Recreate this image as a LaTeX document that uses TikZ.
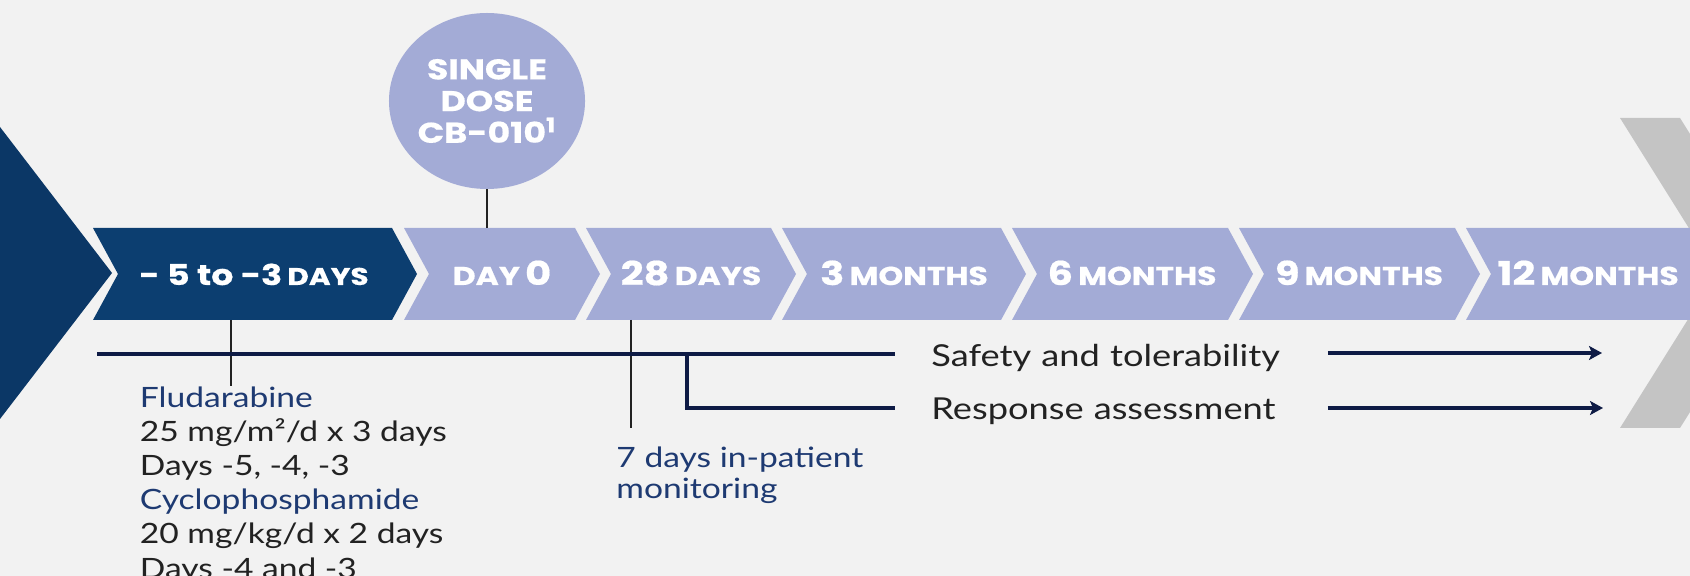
\documentclass[tikz,border=0pt]{standalone}
\usepackage{fontspec}
\setmainfont{Lato}[FakeStretch=1.2]
\newfontfamily\labelfont{Poppins}[FakeStretch=1.22, BoldFeatures={FakeBold=0.6}]
\usepackage{tikz}
\usetikzlibrary{arrows.meta, shapes.geometric}
\usepackage{xcolor}

\definecolor{paper}{HTML}{F2F2F2}
\definecolor{lavender}{HTML}{A3ABD6}
\definecolor{navy}{HTML}{0C3E70}
\definecolor{deepnavy}{HTML}{0B3766}
\definecolor{greyband}{HTML}{C4C4C4}
\definecolor{inknavy}{HTML}{1E3A72}
\definecolor{ink}{HTML}{222222}
\definecolor{rule}{HTML}{0E1B45}

% big figures and small capitals inside the steps
\newcommand{\stepnum}[1]{{\fontsize{16.4}{18}\selectfont #1}}
\newcommand{\stepword}[1]{{\fontsize{12.9}{14}\selectfont #1}}

\begin{document}
\begin{tikzpicture}[x=0.5pt, y=-0.5pt,
    steplabel/.style={text=white, font=\labelfont\bfseries, inner sep=0pt, anchor=base},
    bar/.style={fill=lavender},
    tick/.style={draw=ink, line width=1pt},
    track/.style={draw=rule, line width=1.8pt},
    note/.style={align=left, inner sep=0pt, anchor=north west, font=\fontsize{14}{17.1}\selectfont, text=ink},
    goal/.style={inner ysep=0pt, inner xsep=18pt, text width=180pt, align=left, anchor=base west,
                 font=\fontsize{15.1}{18}\selectfont, text=ink}]

    % Page (y runs downwards, one unit per pixel)
    \path[use as bounding box, fill=paper] (0,0) rectangle (1690,576);
    \clip (0,0) rectangle (1690,576);

    % Big chevrons at both ends
    \fill[deepnavy] (0,127) -- (112,273) -- (0,419) -- cycle;
    \fill[greyband] (1620,118) -- (1717,273) -- (1620,428) -- (1680,428) -- (1777,273) -- (1680,118) -- cycle;

    % Timeline steps: top 228, bottom 320, tip and notch 25 deep
    \fill[navy] (93,228) -- (392,228) -- (417,274) -- (392,320) -- (93,320) -- (118,274) -- cycle;
    \fill[bar] (404,228) -- (575,228) -- (600,274) -- (575,320) -- (404,320) -- (429,274) -- cycle;
    \fill[bar] (586,228) -- (771,228) -- (796,274) -- (771,320) -- (586,320) -- (611,274) -- cycle;
    \fill[bar] (782,228) -- (1001,228) -- (1026,274) -- (1001,320) -- (782,320) -- (807,274) -- cycle;
    \fill[bar] (1012,228) -- (1228,228) -- (1253,274) -- (1228,320) -- (1012,320) -- (1037,274) -- cycle;
    \fill[bar] (1239,228) -- (1455,228) -- (1480,274) -- (1455,320) -- (1239,320) -- (1264,274) -- cycle;
    \fill[bar] (1466,228) -- (1730,228) -- (1755,274) -- (1730,320) -- (1466,320) -- (1491,274) -- cycle;

    % Step labels
    \node[steplabel] (pre) at (254,285) {{\fontsize{14.3}{16}\selectfont - 5 to -3} {\fontsize{12.1}{14}\selectfont DAYS}};
    \node[steplabel] (d0) at (502,285) {\stepword{DAY} \stepnum{0}};
    \node[steplabel] (d28) at (691,285) {\stepnum{28} \stepword{DAYS}};
    \node[steplabel] (m3) at (904,285) {\stepnum{3} \stepword{MONTHS}};
    \node[steplabel] (m6) at (1132,285) {\stepnum{6} \stepword{MONTHS}};
    \node[steplabel] (m9) at (1359,285) {\stepnum{9} \stepword{MONTHS}};
    \node[steplabel, anchor=base west] (m12) at (1497,285) {\stepnum{12} \stepword{MONTHS}};

    % Dosing bubble above day 0
    \node[ellipse, fill=lavender, minimum width=95pt, minimum height=88pt, inner sep=0pt, align=center,
          text=white, font=\labelfont\bfseries\fontsize{14.3}{15.85}\selectfont] (dose) at (487,101)
          {SINGLE\\DOSE\\CB-010\textsuperscript{1}};
    \coordinate (d0Top) at (487,228);
    \draw[tick] (dose.south) -- (d0Top);

    % Notes under the steps
    \node[note] (flu) at (139.5,386) {\textcolor{inknavy}{Fludarabine}\\25 mg/m²/d x 3 days\\Days -5, -4, -3\\
        \textcolor{inknavy}{Cyclophosphamide}\\20 mg/kg/d x 2 days\\Days -4 and -3};
    \node[note, text=inknavy, font=\fontsize{14}{15.5}\selectfont] (watch) at (616,446.5) {7 days in-patient\\monitoring};

    \coordinate (preFoot) at (231,320);
    \coordinate (d28Foot) at (631,320);
    \draw[tick] (preFoot) -- (preFoot |- flu.north);
    \draw[tick, shorten >=9.25pt] (d28Foot) -- (d28Foot |- watch.north);

    % Follow-up tracks
    \node[goal] (safety) at (895,366.7) {Safety and tolerability};
    \node[goal] (response) at (895,419.3) {Response assessment};

    \coordinate (trackStart) at (97,354);
    \coordinate (responseFork) at (687,354);
    \coordinate (safetyEnd) at (1602,353);
    \coordinate (responseEnd) at (1603,408);

    \draw[track] (trackStart) -- (trackStart -| safety.west);
    \draw[track] (responseFork) |- (response.west |- responseEnd);
    \draw[track, -{Stealth[length=6.5pt, width=7pt, inset=1.5pt]}] (safety.east |- safetyEnd) -- (safetyEnd);
    \draw[track, -{Stealth[length=6.5pt, width=7pt, inset=1.5pt]}] (response.east |- responseEnd) -- (responseEnd);
\end{tikzpicture}
\end{document}
